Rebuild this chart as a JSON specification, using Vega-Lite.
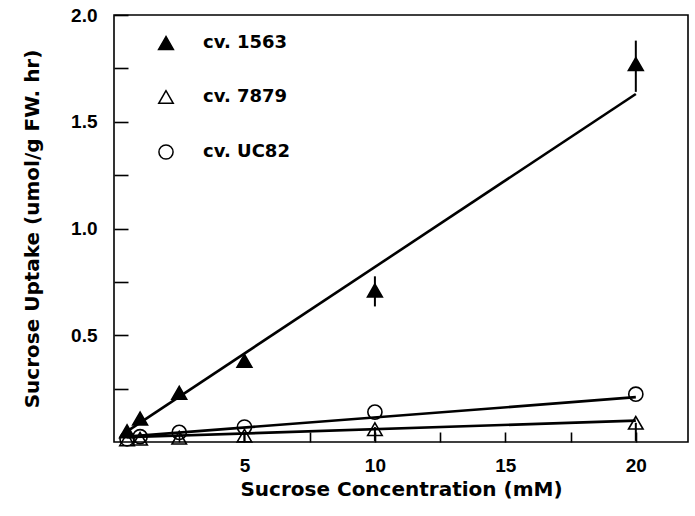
{
  "$schema": "https://vega.github.io/schema/vega-lite/v6.json",
  "width": 574,
  "height": 427,
  "autosize": "none",
  "padding": {"left": 114, "top": 15, "right": 7, "bottom": 74},
  "background": "white",
  "config": {
    "view": {"stroke": "black", "strokeWidth": 1.6},
    "font": "Liberation Sans",
    "axis": {
      "labelFont": "Liberation Sans", "labelFontWeight": "bold", "labelFontSize": 19, "labelColor": "black",
      "titleFont": "DejaVu Sans", "titleFontWeight": "bold", "titleFontSize": 20, "titleColor": "black",
      "tickColor": "black", "tickWidth": 1.6, "grid": false, "domain": false,
      "labelFlush": false, "labelOverlap": false, "labelBound": false
    },
    "legend": {
      "labelFont": "DejaVu Sans", "labelFontWeight": "bold", "labelFontSize": 18, "labelColor": "black"
    }
  },
  "datasets": {
    "points": [
      {"cultivar": "cv. 1563", "conc": 0.5, "uptake": 0.05},
      {"cultivar": "cv. 1563", "conc": 1, "uptake": 0.11},
      {"cultivar": "cv. 1563", "conc": 2.5, "uptake": 0.23},
      {"cultivar": "cv. 1563", "conc": 5, "uptake": 0.38},
      {"cultivar": "cv. 1563", "conc": 10, "uptake": 0.71},
      {"cultivar": "cv. 1563", "conc": 20, "uptake": 1.77},
      {"cultivar": "cv. 7879", "conc": 0.5, "uptake": 0.012},
      {"cultivar": "cv. 7879", "conc": 1, "uptake": 0.015},
      {"cultivar": "cv. 7879", "conc": 2.5, "uptake": 0.02},
      {"cultivar": "cv. 7879", "conc": 5, "uptake": 0.03},
      {"cultivar": "cv. 7879", "conc": 10, "uptake": 0.06},
      {"cultivar": "cv. 7879", "conc": 20, "uptake": 0.09},
      {"cultivar": "cv. UC82", "conc": 0.5, "uptake": 0.015},
      {"cultivar": "cv. UC82", "conc": 1, "uptake": 0.025},
      {"cultivar": "cv. UC82", "conc": 2.5, "uptake": 0.045},
      {"cultivar": "cv. UC82", "conc": 5, "uptake": 0.07},
      {"cultivar": "cv. UC82", "conc": 10, "uptake": 0.14},
      {"cultivar": "cv. UC82", "conc": 20, "uptake": 0.224}
    ],
    "fits": [
      {"cultivar": "cv. 1563", "conc": 0.5, "uptake": 0.05},
      {"cultivar": "cv. 1563", "conc": 20, "uptake": 1.63},
      {"cultivar": "cv. 7879", "conc": 0.5, "uptake": 0.022},
      {"cultivar": "cv. 7879", "conc": 20, "uptake": 0.1},
      {"cultivar": "cv. UC82", "conc": 0.5, "uptake": 0.025},
      {"cultivar": "cv. UC82", "conc": 20, "uptake": 0.21}
    ],
    "errs": [
      {"cultivar": "cv. 1563", "conc": 10, "low": 0.635, "high": 0.776},
      {"cultivar": "cv. 1563", "conc": 20, "low": 1.64, "high": 1.88},
      {"cultivar": "cv. 7879", "conc": 5, "low": 0.005, "high": 0.04},
      {"cultivar": "cv. 7879", "conc": 10, "low": 0.005, "high": 0.07},
      {"cultivar": "cv. 7879", "conc": 20, "low": 0.005, "high": 0.09}
    ]
  },
  "encoding": {
    "x": {
      "field": "conc", "type": "quantitative",
      "scale": {"domain": [0, 22], "nice": false, "zero": false},
      "axis": {
        "title": "Sucrose Concentration (mM)",
        "values": [2.5, 5, 7.5, 10, 12.5, 15, 17.5, 20],
        "labelExpr": "datum.value % 5 == 0 ? format(datum.value, 'd') : ''",
        "tickSize": -10, "labelPadding": 24, "titlePadding": 4,
        "encode": {"ticks": {"update": {"y2": {"signal": "datum.value % 5 == 0 ? -10 : -6"}}}}
      }
    },
    "y": {
      "field": "uptake", "type": "quantitative",
      "scale": {"domain": [0, 2], "nice": false, "zero": false},
      "axis": {
        "title": "Sucrose Uptake (umol/g FW. hr)",
        "values": [0.25, 0.5, 0.75, 1, 1.25, 1.5, 1.75, 2],
        "labelExpr": "datum.value % 0.5 == 0 ? format(datum.value, '.1f') : ''",
        "tickSize": -14, "labelPadding": 31, "titlePadding": 28,
        "encode": {"ticks": {"update": {"x2": {"signal": "datum.value % 0.5 == 0 ? 14 : 7"}}}}
      }
    }
  },
  "layer": [
    {
      "data": {"name": "fits"},
      "mark": {"type": "line", "color": "black", "strokeWidth": 2.6},
      "encoding": {"detail": {"field": "cultivar"}}
    },
    {
      "data": {"name": "points"},
      "mark": {"type": "point", "filled": true, "stroke": "black", "strokeWidth": 1.6, "opacity": 1},
      "encoding": {
        "shape": {"field": "cultivar", "type": "nominal",
          "scale": {"domain": ["cv. 1563", "cv. 7879", "cv. UC82"], "range": ["triangle-up", "triangle-up", "circle"]},
          "legend": {"title": null, "orient": "none", "legendX": 43, "legendY": 19, "rowPadding": 34, "labelOffset": 28, "padding": 0,
            "encode": {"symbols": {"update": {"stroke": {"value": "black"}, "strokeWidth": {"value": 1.6}}}}}},
        "fill": {"field": "cultivar", "type": "nominal",
          "scale": {"domain": ["cv. 1563", "cv. 7879", "cv. UC82"], "range": ["black", "transparent", "transparent"]},
          "legend": {"title": null, "orient": "none", "legendX": 43, "legendY": 19, "rowPadding": 34, "labelOffset": 28, "padding": 0,
            "encode": {"symbols": {"update": {"stroke": {"value": "black"}, "strokeWidth": {"value": 1.6}}}}}},
        "size": {"field": "cultivar", "type": "nominal",
          "scale": {"domain": ["cv. 1563", "cv. 7879", "cv. UC82"], "range": [220, 200, 120]},
          "legend": {"title": null, "orient": "none", "legendX": 43, "legendY": 19, "rowPadding": 34, "labelOffset": 28, "padding": 0,
            "encode": {"symbols": {"update": {"stroke": {"value": "black"}, "strokeWidth": {"value": 1.6}}}}}}
      }
    },
    {
      "data": {"name": "errs"},
      "mark": {"type": "rule", "color": "black", "strokeWidth": 2},
      "encoding": {
        "y": {"field": "low", "type": "quantitative"},
        "y2": {"field": "high"}
      }
    }
  ]
}
